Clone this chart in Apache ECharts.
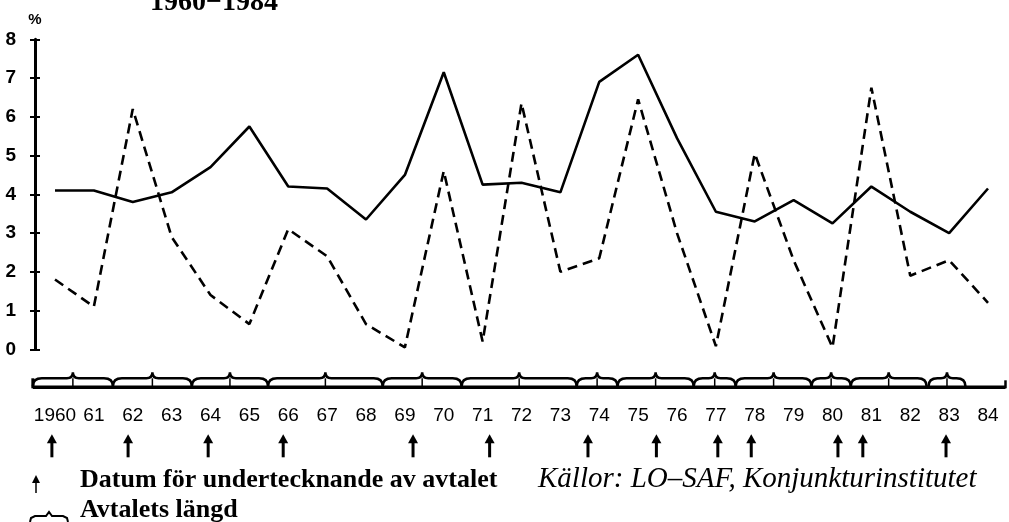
<!DOCTYPE html>
<html>
<head>
<meta charset="utf-8">
<title>Löneökning 1960-1984</title>
<script src="https://cdn.jsdelivr.net/npm/echarts@6/dist/echarts.min.js"></script>
<style>
  html, body { margin: 0; padding: 0; background: #fff; }
  #chart { width: 1009px; height: 522px; }
</style>
</head>
<body>
<div id="chart"></div>
<script>
// år på x-axeln
const years = [1960, 1961, 1962, 1963, 1964, 1965, 1966, 1967, 1968, 1969, 1970, 1971, 1972,
  1973, 1974, 1975, 1976, 1977, 1978, 1979, 1980, 1981, 1982, 1983, 1984];
// heldragen linje (%)
const solidValues = [4.1, 4.1, 3.8, 4.05, 4.7, 5.75, 4.2, 4.15, 3.35, 4.5, 7.15, 4.25, 4.3,
  4.05, 6.9, 7.6, 5.45, 3.55, 3.3, 3.85, 3.25, 4.2, 3.55, 3.0, 4.15];
// streckad linje (%)
const dashedValues = [1.8, 1.1, 6.2, 2.9, 1.4, 0.65, 3.1, 2.4, 0.65, 0.05, 4.6, 0.2, 6.35,
  2.0, 2.35, 6.45, 3.0, 0.08, 5.05, 2.3, 0.05, 6.75, 1.9, 2.3, 1.2];
// y-axelns etiketter
const yTicks = [0, 1, 2, 3, 4, 5, 6, 7, 8];
// datum för undertecknande av avtalet
const signDates = [1959.92, 1961.88, 1963.94, 1965.87, 1969.21, 1971.18, 1973.71, 1975.47,
  1977.05, 1977.91, 1980.14, 1980.78, 1982.92];
// avtalets längd (start, slut)
const agreements = [
  [1959.43, 1961.49], [1961.49, 1963.52], [1963.52, 1965.48], [1965.48, 1968.43],
  [1968.43, 1970.46], [1970.46, 1973.42], [1973.42, 1974.47], [1974.47, 1976.43],
  [1976.43, 1977.51], [1977.51, 1979.46], [1979.46, 1980.47], [1980.47, 1982.42],
  [1982.47, 1983.42]
];
// bandets baslinje
const baseLine = [[1959.43, 1984.45]];

const serif = '"Liberation Serif", "DejaVu Serif", serif';
const sans = '"Liberation Sans", Arial, sans-serif';

// klammer ovanför baslinjen
function renderBrace(params, api) {
  const a = api.coord([api.value(0), 0]);
  const b = api.coord([api.value(1), 0]);
  const yb = a[1] + 37;
  const yt = a[1] + 29;
  const x0 = a[0], x1 = b[0], xm = (x0 + x1) / 2;
  const d = 'M' + x0 + ',' + yb +
    ' Q' + x0 + ',' + yt + ' ' + (x0 + 9) + ',' + yt +
    ' L' + (xm - 6) + ',' + yt +
    ' Q' + xm + ',' + yt + ' ' + xm + ',' + (yt - 6) +
    ' Q' + xm + ',' + yt + ' ' + (xm + 6) + ',' + yt +
    ' L' + (x1 - 9) + ',' + yt +
    ' Q' + x1 + ',' + yt + ' ' + x1 + ',' + yb;
  return {
    type: 'group',
    children: [
      { type: 'path', shape: { pathData: d }, style: { stroke: '#000', lineWidth: 2.5, fill: null } },
      { type: 'line', shape: { x1: xm, y1: yt, x2: xm, y2: yb }, style: { stroke: '#000', lineWidth: 1.5 } }
    ]
  };
}

function renderBase(params, api) {
  const a = api.coord([api.value(0), 0]);
  const b = api.coord([api.value(1), 0]);
  const y = a[1] + 38;
  return {
    type: 'group',
    children: [
      { type: 'line', shape: { x1: a[0], y1: y, x2: b[0], y2: y }, style: { stroke: '#000', lineWidth: 3.5 } },
      { type: 'line', shape: { x1: a[0], y1: y + 1, x2: a[0], y2: y - 9 }, style: { stroke: '#000', lineWidth: 3 } },
      { type: 'line', shape: { x1: b[0], y1: y + 1, x2: b[0], y2: y - 7 }, style: { stroke: '#000', lineWidth: 2.5 } }
    ]
  };
}

// pil under årtalen
function renderArrow(params, api) {
  const p = api.coord([api.value(0), 0]);
  const x = p[0];
  const yTop = p[1] + 85;
  const yBot = p[1] + 108;
  return {
    type: 'group',
    children: [
      { type: 'line', shape: { x1: x, y1: yTop + 5, x2: x, y2: yBot }, style: { stroke: '#000', lineWidth: 3 } },
      { type: 'polygon', shape: { points: [[x - 5, yTop + 9], [x, yTop], [x + 5, yTop + 9]] }, style: { fill: '#000' } }
    ]
  };
}

const chart = echarts.init(document.getElementById('chart'), null, { renderer: 'canvas' });

const option = {
  backgroundColor: '#fff',
  animation: false,
  grid: { left: 55, right: 21, top: 39.3, bottom: 172.7 },
  xAxis: {
    type: 'value',
    min: years[0],
    max: years[years.length - 1],
    interval: 1,
    axisLine: { show: false },
    axisTick: { show: false },
    splitLine: { show: false },
    axisLabel: {
      margin: 57,
      color: '#000',
      fontFamily: sans,
      fontSize: 19,
      formatter: function (v) { return v === 1960 ? '1960' : String(v).slice(2); }
    }
  },
  yAxis: [
    {
      type: 'value',
      min: yTicks[0],
      max: yTicks[yTicks.length - 1],
      interval: 1,
      offset: 20,
      name: '%',
      nameGap: 12,
      nameTextStyle: { color: '#000', fontFamily: sans, fontWeight: 'bold', fontSize: 15, align: 'center' },
      axisLine: { show: true, lineStyle: { color: '#000', width: 3 } },
      axisTick: { show: true, length: 5, lineStyle: { color: '#000', width: 2 } },
      splitLine: { show: false },
      axisLabel: { margin: 19, color: '#000', fontFamily: sans, fontWeight: 'bold', fontSize: 19 }
    },
    {
      type: 'value',
      min: yTicks[0],
      max: yTicks[yTicks.length - 1],
      interval: 1,
      offset: 20,
      position: 'left',
      axisLine: { show: false },
      axisTick: { show: true, inside: true, length: 5, lineStyle: { color: '#000', width: 2 } },
      axisLabel: { show: false },
      splitLine: { show: false }
    }
  ],
  series: [
    {
      type: 'line',
      data: years.map((y, i) => [y, solidValues[i]]),
      symbol: 'none',
      lineStyle: { color: '#000', width: 2.6 }
    },
    {
      type: 'line',
      data: years.map((y, i) => [y, dashedValues[i]]),
      symbol: 'none',
      lineStyle: { color: '#000', width: 2.6, type: [10, 6] }
    },
    {
      type: 'custom',
      renderItem: renderBase,
      clip: false,
      data: baseLine
    },
    {
      type: 'custom',
      renderItem: renderBrace,
      clip: false,
      data: agreements
    },
    {
      type: 'custom',
      renderItem: renderArrow,
      clip: false,
      data: signDates.map(d => [d])
    }
  ],
  graphic: [
    // titel, delvis avskuren upptill
    {
      type: 'text', x: 150, y: -11,
      style: { text: '1960\u22121984', fill: '#000', font: 'bold 28px ' + serif }
    },
    // förklaring: pil
    { type: 'line', shape: { x1: 36, y1: 478, x2: 36, y2: 493 }, style: { stroke: '#000', lineWidth: 1.5 } },
    { type: 'polygon', shape: { points: [[32, 483], [36, 475], [40, 483]] }, style: { fill: '#000' } },
    {
      type: 'text', x: 80, y: 467,
      style: { text: 'Datum för undertecknande av avtalet', fill: '#000', font: 'bold 26px ' + serif }
    },
    {
      type: 'text', x: 538, y: 465,
      style: { text: 'Källor: LO\u2013SAF, Konjunkturinstitutet', fill: '#000', font: 'italic 29px ' + serif }
    },
    // förklaring: klammer
    {
      type: 'polyline',
      shape: { points: [[30, 522], [31, 518], [35, 516], [46, 516], [49, 512], [52, 516], [63, 516], [67, 518], [68, 522]] },
      style: { stroke: '#000', lineWidth: 2, fill: null }
    },
    {
      type: 'text', x: 80, y: 497,
      style: { text: 'Avtalets längd', fill: '#000', font: 'bold 26px ' + serif }
    }
  ]
};

chart.setOption(option);
</script>
</body>
</html>
